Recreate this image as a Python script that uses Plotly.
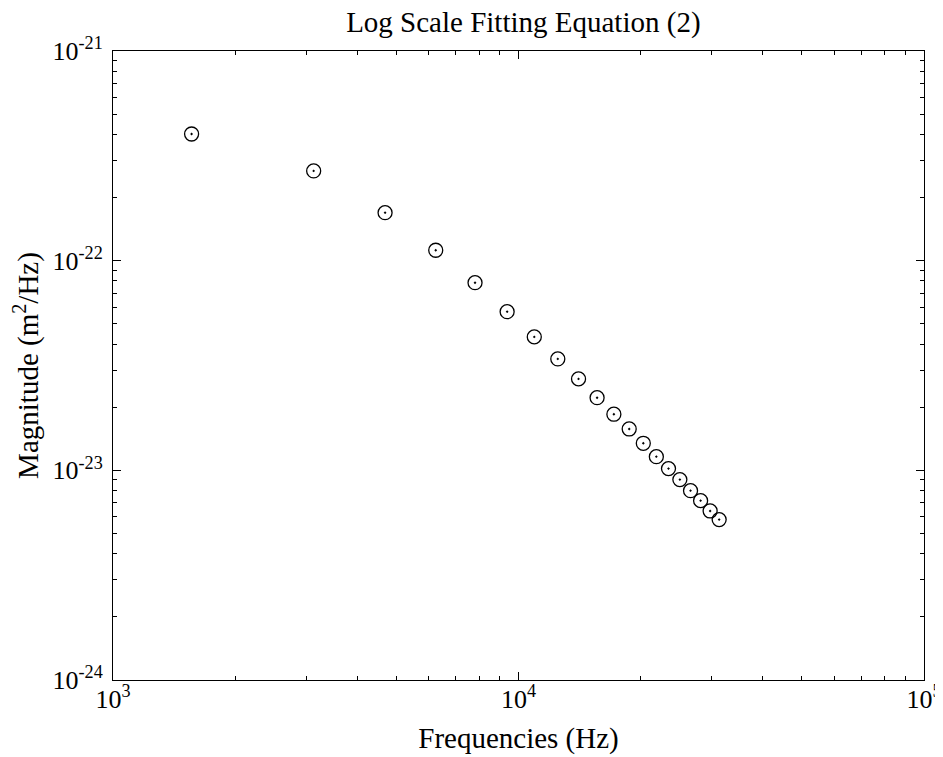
import plotly.graph_objects as go

freqs = [1562.5 * k for k in range(1, 21)]
magnitudes = [4.02e-22, 2.68e-22, 1.694e-22, 1.121e-22, 7.85e-23, 5.71e-23, 4.33e-23,
              3.40e-23, 2.73e-23, 2.22e-23, 1.852e-23, 1.575e-23, 1.346e-23, 1.162e-23,
              1.019e-23, 9.03e-24, 8.00e-24, 7.17e-24, 6.40e-24, 5.82e-24]

x_tickvals = [1e3, 1e4, 1e5]
x_ticktext = ["10<sup>3</sup>", "10<sup>4</sup>", "10<sup>5</sup>"]
y_tickvals = [1e-24, 1e-23, 1e-22, 1e-21]
y_ticktext = ["10<sup>-24</sup>", "10<sup>-23</sup>", "10<sup>-22</sup>", "10<sup>-21</sup>"]

FONT = "Liberation Serif"

fig = go.Figure()
fig.add_trace(go.Scatter(
    x=freqs, y=magnitudes, mode="markers",
    marker=dict(symbol="circle-open-dot", size=14, color="black", line=dict(width=1.3, color="black")),
    showlegend=False,
))

axis_common = dict(
    type="log", showgrid=False, zeroline=False, showline=True, linecolor="black", linewidth=1,
    mirror="ticks", ticks="inside", ticklen=8, tickcolor="black", tickwidth=1,
    tickfont=dict(family=FONT, size=26, color="black"), automargin=False,
    minor=dict(ticks="inside", ticklen=4, tickcolor="black", dtick="D1", showgrid=False),
)

# page body adds an 8px offset, so the canvas is sized/margined to place the frame correctly
fig.update_layout(
    width=935, height=749,
    margin=dict(l=105, r=19, t=43, b=77),
    paper_bgcolor="white", plot_bgcolor="white",
    title=dict(text="Log Scale Fitting Equation (2)", x=0.506, xanchor="center", xref="paper",
               y=1, yref="container", yanchor="top", pad=dict(t=4),
               font=dict(family=FONT, size=29, color="black")),
    xaxis=dict(axis_common, range=[3, 5], tickvals=x_tickvals, ticktext=x_ticktext,
               ticklabelstandoff=-4,
               title=dict(text="Frequencies (Hz)", font=dict(family=FONT, size=29, color="black"), standoff=14)),
    yaxis=dict(axis_common, range=[-24, -21], tickvals=y_tickvals, ticktext=y_ticktext,
               ticklabelstandoff=4,
               title=dict(text="Magnitude (m<sup>2</sup>/Hz)", font=dict(family=FONT, size=29, color="black"), standoff=5)),
)

fig.write_html("out.html")
